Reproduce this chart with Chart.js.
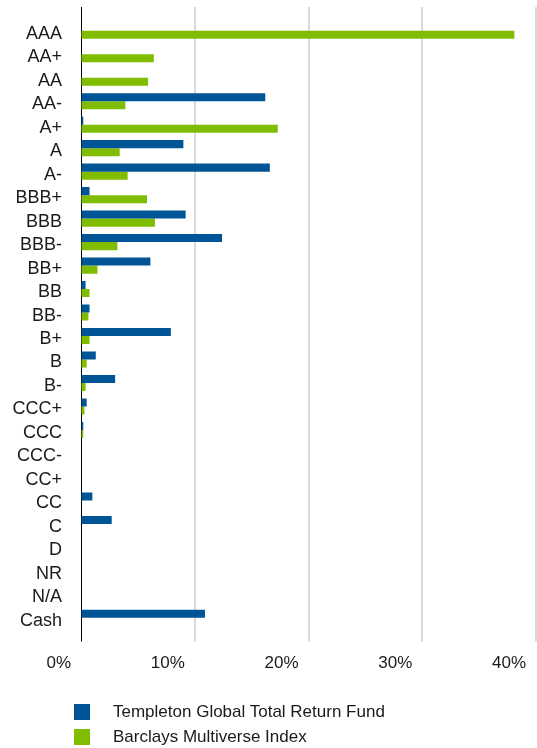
<!DOCTYPE html>
<html>
<head>
<meta charset="utf-8">
<script src="https://cdn.jsdelivr.net/npm/chart.js@4"></script>
<style>
  html, body { margin: 0; padding: 0; background: #fff; }
  #wrap { position: relative; width: 537px; height: 748px; }
  #legend {
    position: absolute; left: 74px; top: 699px;
    font-family: "Liberation Sans", Arial, sans-serif; font-size: 17px; color: #1a1a1a;
  }
  #legend div { display: flex; align-items: center; height: 25px; }
  #legend span.box { width: 16px; height: 16px; margin-right: 23px; display: inline-block; }
</style>
</head>
<body>
<div id="wrap">
  <canvas id="quality-chart" width="537" height="748"></canvas>
  <div id="legend"></div>
</div>
<script>
  // Credit quality breakdown (% of total)
  const ratings = ['AAA', 'AA+', 'AA', 'AA-', 'A+', 'A', 'A-', 'BBB+', 'BBB', 'BBB-', 'BB+', 'BB', 'BB-',
    'B+', 'B', 'B-', 'CCC+', 'CCC', 'CCC-', 'CC+', 'CC', 'C', 'D', 'NR', 'N/A', 'Cash'];
  const fundValues = [0, 0, 0, 16.2, 0.2, 9.0, 16.6, 0.75, 9.2, 12.4, 6.1, 0.4, 0.75,
    7.9, 1.3, 3.0, 0.5, 0.2, 0, 0, 1.0, 2.7, 0, 0, 0, 10.9];
  const indexValues = [38.1, 6.4, 5.9, 3.9, 17.3, 3.4, 4.1, 5.8, 6.5, 3.2, 1.45, 0.75, 0.65,
    0.75, 0.5, 0.4, 0.3, 0.2, 0, 0, 0, 0, 0, 0, 0, 0];
  const xTicks = [0, 10, 20, 30, 40];
  const seriesNames = ['Templeton Global Total Return Fund', 'Barclays Multiverse Index'];
  const seriesColors = ['#005596', '#80bc00'];

  const family = '"Liberation Sans", Arial, sans-serif';
  const gridColor = ctx => (ctx.tick && ctx.tick.value === 0) ? '#000' : '#dadada';
  const gridWidth = ctx => (ctx.tick && ctx.tick.value === 0) ? 1 : 2;
  const fixedTicks = axis => { axis.ticks = xTicks.map(v => ({ value: v })); };

  const chart = new Chart(document.getElementById('quality-chart'), {
    type: 'bar',
    data: {
      labels: ratings,
      datasets: [
        { label: seriesNames[0], data: fundValues, backgroundColor: seriesColors[0] },
        { label: seriesNames[1], data: indexValues, backgroundColor: seriesColors[1] }
      ]
    },
    options: {
      indexAxis: 'y',
      responsive: false,
      animation: false,
      barPercentage: 1,
      categoryPercentage: 0.685,
      layout: { padding: { top: 7, right: 1, bottom: 62, left: 0 } },
      plugins: { legend: { display: false }, tooltip: { enabled: false } },
      scales: {
        x: {
          position: 'bottom',
          min: 0, max: 40,
          afterBuildTicks: fixedTicks,
          afterFit: axis => { axis.paddingLeft = 0; axis.paddingRight = 0; },
          border: { display: false },
          grid: { color: gridColor, lineWidth: gridWidth, tickLength: 12 },
          ticks: {
            font: { family: family, size: 17 }, color: '#1a1a1a', padding: 12,
            align: 'end', labelOffset: -10,
            callback: v => v + '%'
          }
        },
        // top axis only used to extend the gridlines above the bars
        xTop: {
          position: 'top',
          min: 0, max: 40,
          afterBuildTicks: fixedTicks,
          afterFit: axis => { axis.paddingLeft = 0; axis.paddingRight = 0; },
          border: { display: false },
          grid: { color: gridColor, lineWidth: gridWidth, tickLength: 12, drawOnChartArea: false },
          ticks: { display: false }
        },
        y: {
          afterFit: axis => { axis.width = 81; axis.paddingTop = 0; axis.paddingBottom = 0; },
          border: { display: false },
          grid: { display: false, drawTicks: false },
          ticks: { font: { family: family, size: 18 }, color: '#1a1a1a', padding: 19, labelOffset: 3, autoSkip: false }
        }
      }
    }
  });

  // legend stacked under the axis
  const legend = document.getElementById('legend');
  chart.data.datasets.forEach(ds => {
    const row = document.createElement('div');
    const box = document.createElement('span');
    box.className = 'box';
    box.style.background = ds.backgroundColor;
    row.appendChild(box);
    row.appendChild(document.createTextNode(ds.label));
    legend.appendChild(row);
  });
</script>
</body>
</html>
